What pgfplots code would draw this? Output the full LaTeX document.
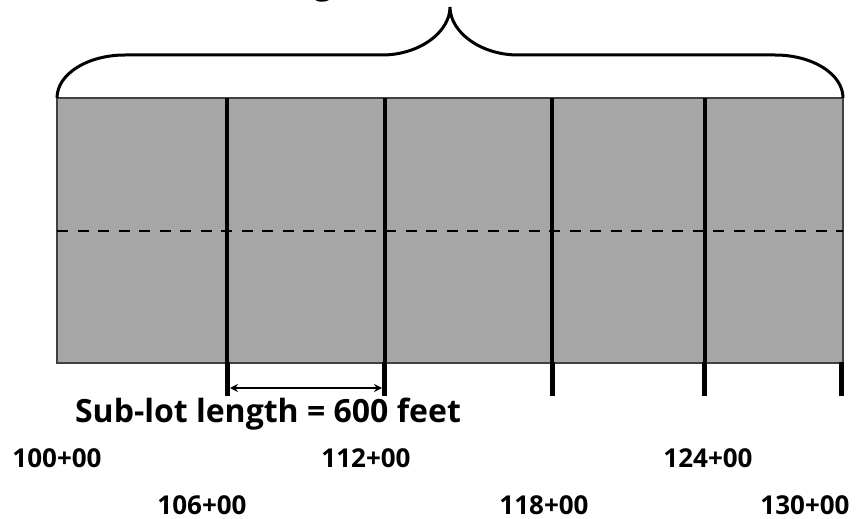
\documentclass[border=0pt]{standalone}
\usepackage{pgfplots}
\pgfplotsset{compat=1.18}
\usepackage{fontspec}
\setmainfont{Open Sans}
\usetikzlibrary{arrows.meta}
\definecolor{lotgray}{HTML}{A6A6A6}
\begin{document}
\begin{tikzpicture}
\begin{axis}[at={(0,0)}, anchor=south west, width=859bp, height=519bp, scale only axis,
  xmin=0, xmax=859, ymin=0, ymax=519, y dir=reverse, hide axis, clip=false]
\coordinate (BL) at (axis cs:0,519);
\coordinate (TR) at (axis cs:859,0);
% lot rectangle
\addplot[fill=lotgray, draw=black!75, line width=1.3bp] coordinates {(57,98) (843,98) (843,363) (57,363)} -- cycle;
% centre line
\addplot[black, line width=2.7bp, dash pattern=on 11bp off 9.5bp] coordinates {(57,231) (843,231)};
% sub-lot dividers
\addplot[black, line width=3.3bp] coordinates {(227,98) (227,363)};
\addplot[black, line width=3.3bp] coordinates {(385,98) (385,363)};
\addplot[black, line width=3.3bp] coordinates {(552,98) (552,363)};
\addplot[black, line width=3.3bp] coordinates {(705,98) (705,363)};
% station ticks below
\addplot[black, line width=5bp] coordinates {(227,362) (227,396)};
\addplot[black, line width=5bp] coordinates {(384,362) (384,396)};
\addplot[black, line width=5bp] coordinates {(552,362) (552,396)};
\addplot[black, line width=5bp] coordinates {(704,362) (704,396)};
\addplot[black, line width=5bp] coordinates {(841,362) (841,396)};
% sub-lot arrow
\addplot[black, line width=2.6bp, {Stealth[length=8bp,width=8bp]}-{Stealth[length=8bp,width=8bp]}] coordinates {(230,388) (382,388)};
% brace
\draw[black, line width=3bp] (axis cs:57,98) .. controls (axis cs:57,74) and (axis cs:87.5,55) .. (axis cs:125,55)
  -- (axis cs:382,55) .. controls (axis cs:419.5,55) and (axis cs:450,32) .. (axis cs:450,7)
  .. controls (axis cs:450,32) and (axis cs:480.5,55) .. (axis cs:518,55)
  -- (axis cs:775,55) .. controls (axis cs:812.5,55) and (axis cs:843,74) .. (axis cs:843,98);
% texts
\node[anchor=base, font=\bfseries\fontsize{32bp}{38bp}\selectfont] at (axis cs:376,-5.5) {Lot length = 3000 feet};
\node[anchor=base, font=\bfseries\fontsize{32bp}{38bp}\selectfont] at (axis cs:268,422) {Sub-lot length = 600 feet};
\node[anchor=base, font=\bfseries\fontsize{26bp}{30bp}\selectfont] at (axis cs:57,467) {100+00};
\node[anchor=base, font=\bfseries\fontsize{26bp}{30bp}\selectfont] at (axis cs:366,467) {112+00};
\node[anchor=base, font=\bfseries\fontsize{26bp}{30bp}\selectfont] at (axis cs:708,467) {124+00};
\node[anchor=base, font=\bfseries\fontsize{26bp}{30bp}\selectfont] at (axis cs:202,514) {106+00};
\node[anchor=base, font=\bfseries\fontsize{26bp}{30bp}\selectfont] at (axis cs:544,514) {118+00};
\node[anchor=base, font=\bfseries\fontsize{26bp}{30bp}\selectfont] at (axis cs:805,514) {130+00};
\end{axis}
\pgfresetboundingbox
\path[use as bounding box] (BL) rectangle (TR);
\end{tikzpicture}
\end{document}
